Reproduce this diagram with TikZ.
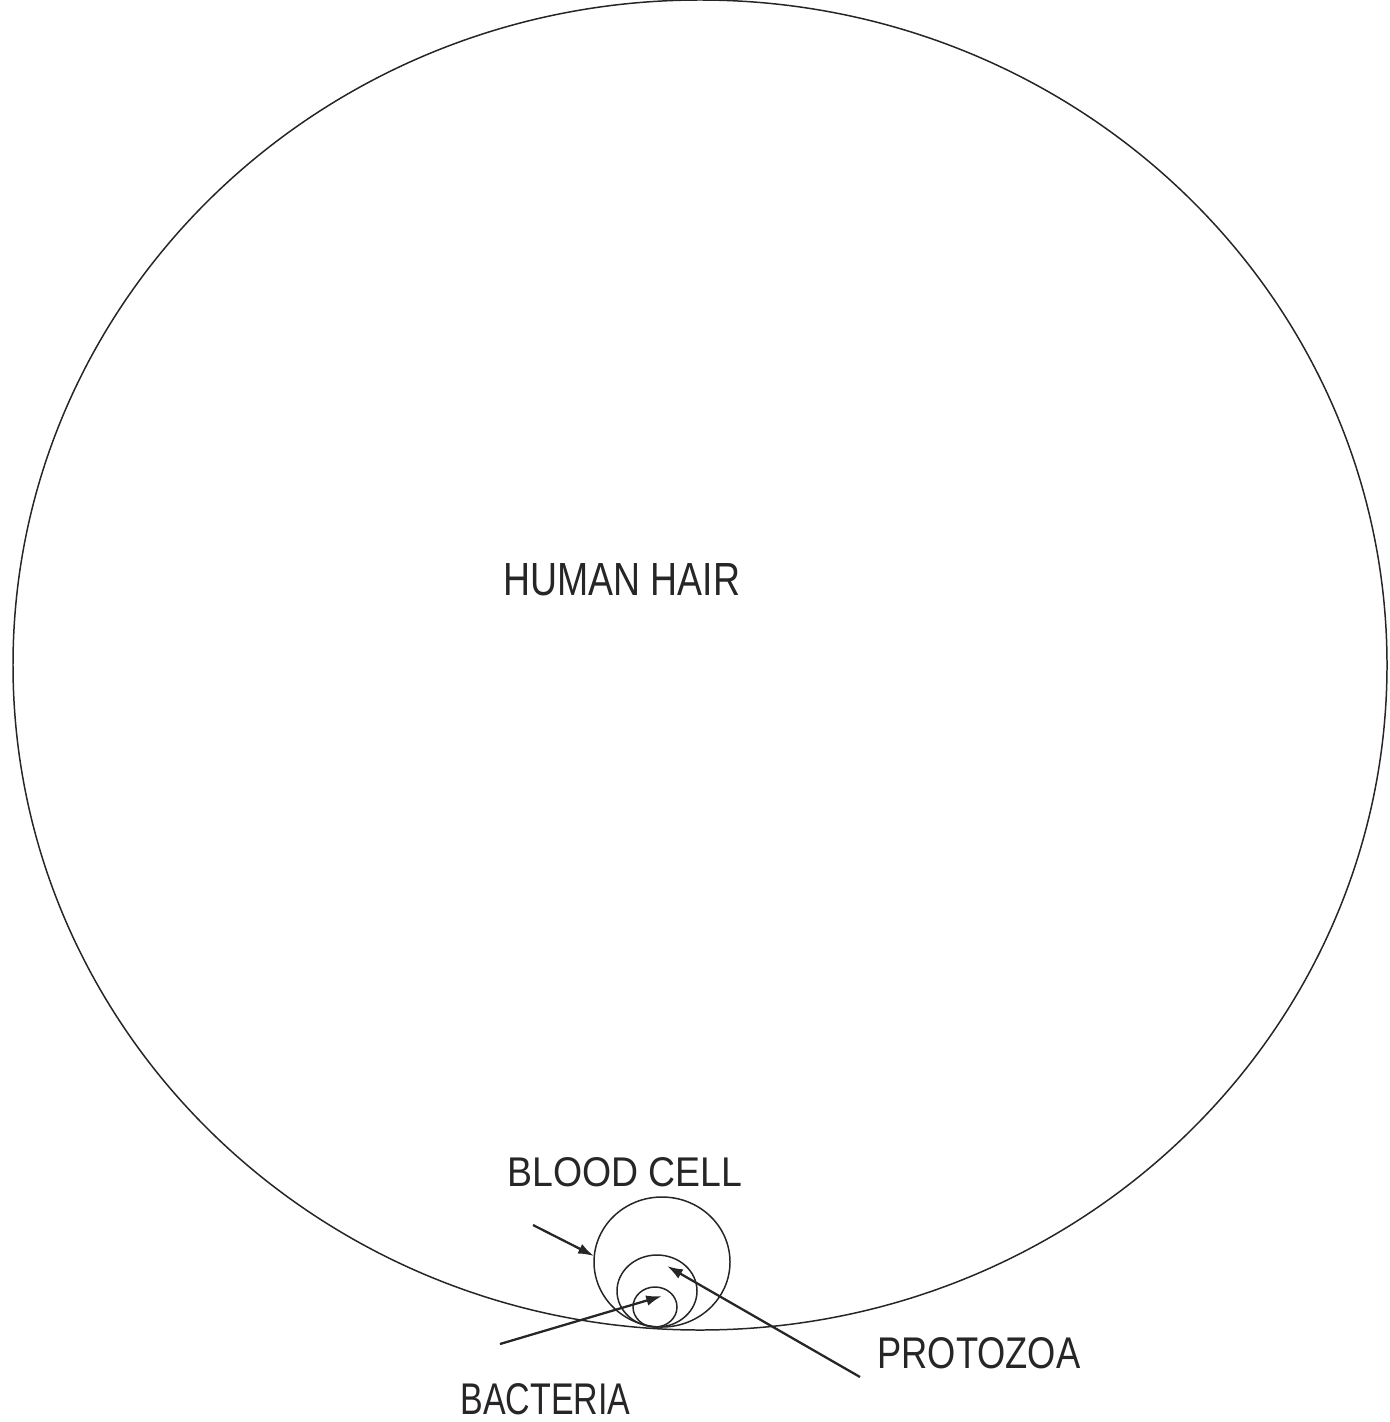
\documentclass[tikz,border=0pt]{standalone}
\usepackage{fontspec}
\setmainfont{Liberation Sans}
\usetikzlibrary{arrows.meta}
\begin{document}
\begin{tikzpicture}[x=0.02cm,y=-0.02cm,
  outline/.style={draw=black!85,line width=0.85pt},
  pointer/.style={draw=black!85,line width=1.3pt,-{Latex[length=9pt,width=6pt]}},
  lbl/.style={inner sep=0pt,anchor=base west,text=black!85}]
\useasboundingbox (0,0) rectangle (1389,1422);
% circles
\draw[outline] (700,665) ellipse [x radius=687, y radius=665];
\draw[outline] (662,1262) ellipse [x radius=68, y radius=65];
\draw[outline] (657,1291) ellipse [x radius=40, y radius=36];
\draw[outline] (655,1307) ellipse [x radius=22, y radius=20];
% labels
\node[lbl] (hair) at (503,595) {\resizebox{4.74cm}{0.64cm}{HUMAN HAIR}};
\node[lbl] (blood) at (507,1186) {\resizebox{4.7cm}{0.58cm}{BLOOD CELL}};
\node[lbl] (proto) at (877,1368) {\resizebox{4.06cm}{0.62cm}{PROTOZOA}};
\node[lbl] (bact) at (460,1414) {\resizebox{3.4cm}{0.62cm}{BACTERIA}};
% arrow coordinates
\coordinate (bloodS) at (533,1225);
\coordinate (bloodT) at (594,1256);
\coordinate (protoS) at (860,1377);
\coordinate (protoT) at (667,1266);
\coordinate (bactS) at (500,1344);
\coordinate (bactT) at (662,1296);
\draw[pointer] (bloodS) -- (bloodT);
\draw[pointer] (protoS) -- (protoT);
\draw[pointer] (bactS) -- (bactT);
\end{tikzpicture}
\end{document}
